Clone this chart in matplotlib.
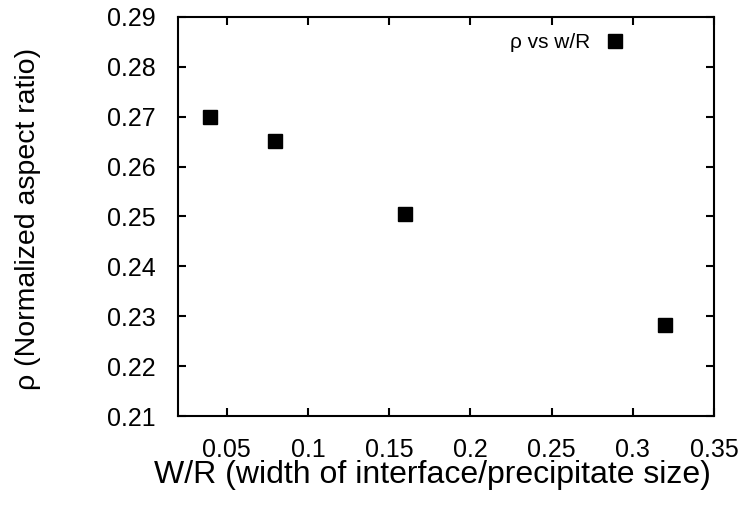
import matplotlib.pyplot as plt

# datos
w_R = [0.04, 0.08, 0.16, 0.32]
rho = [0.2700, 0.2652, 0.2505, 0.2283]
x_ticks = [0.05, 0.1, 0.15, 0.2, 0.25, 0.3, 0.35]
y_ticks = [0.21, 0.22, 0.23, 0.24, 0.25, 0.26, 0.27, 0.28, 0.29]

plt.rcParams['font.family'] = ['Liberation Sans', 'DejaVu Sans']

fig = plt.figure(figsize=(7.47, 5.18), dpi=100)
ax = fig.add_axes([0.2383, 0.1969, 0.7175, 0.7703])

ax.plot(w_R, rho, 's', color='black', markersize=10, label='ρ vs w/R')

ax.set_xlim(0.02, 0.35)
ax.set_ylim(0.21, 0.29)
ax.set_xticks(x_ticks)
ax.set_xticklabels([str(t) for t in x_ticks])
ax.set_yticks(y_ticks)
ax.set_yticklabels(['%.2f' % t for t in y_ticks])

ax.tick_params(direction='in', length=6, width=1.5, labelsize=18, pad=16,
               top=True, right=True)
for s in ax.spines.values():
    s.set_linewidth(1.5)

ax.set_xlabel('W/R (width of interface/precipitate size)', fontsize=23, va='center')
ax.set_ylabel('ρ (Normalized aspect ratio)', fontsize=20.5, va='center')
ax.xaxis.set_label_coords(0.474, -0.148)
ax.yaxis.set_label_coords(-0.28, 0.494)

leg = ax.legend(loc='upper right', frameon=False, fontsize=15, markerfirst=False,
                handlelength=1.0, handletextpad=0.7, borderaxespad=0,
                bbox_to_anchor=(0.85, 0.98))

fig.savefig('out.png', dpi=100)
